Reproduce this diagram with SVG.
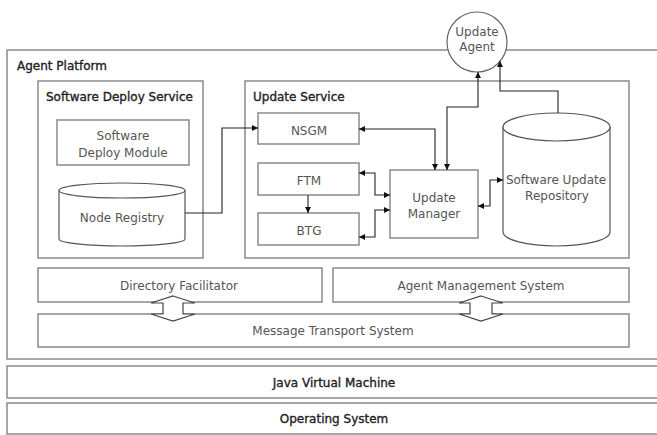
<svg xmlns="http://www.w3.org/2000/svg" width="657" height="435" viewBox="0 0 657 435">
  <style>
    .box { fill: #fff; stroke: #8a8a8a; stroke-width: 1.5; }
    .cyl { fill: #fff; stroke: #555; stroke-width: 1.2; }
    .wire { fill: none; stroke: #222; stroke-width: 1.1; }
    .blk { fill: #fff; stroke: #444; stroke-width: 1.2; stroke-linejoin: miter; }
    .lbl { font-family: "DejaVu Sans", "Liberation Sans", sans-serif; font-size: 12px; fill: #555; text-anchor: middle; }
    .ttl { font-family: "DejaVu Sans", "Liberation Sans", sans-serif; font-size: 12px; fill: #222; stroke: #222; stroke-width: 0.35; }
  </style>
  <defs>
    <marker id="ah" viewBox="0 0 10 10" refX="10" refY="5" markerWidth="6" markerHeight="6" markerUnits="userSpaceOnUse" orient="auto-start-reverse">
      <path d="M0,0 L10,5 L0,10 z" fill="#111"/>
    </marker>
  </defs>

  <rect width="657" height="435" fill="#fff"/>

  <!-- platform layers -->
  <g id="agent-platform">
    <rect class="box" x="7" y="50" width="662" height="309"/>
    <text class="ttl" x="17" y="70" font-size="13">Agent Platform</text>
  </g>
  <g id="jvm">
    <rect class="box" x="7" y="366" width="662" height="32"/>
    <text class="ttl" x="334" y="387" font-size="13" text-anchor="middle">Java Virtual Machine</text>
  </g>
  <g id="os">
    <rect class="box" x="7" y="403" width="662" height="31"/>
    <text class="ttl" x="334" y="423" font-size="13" text-anchor="middle">Operating System</text>
  </g>

  <!-- services -->
  <g id="software-deploy-service">
    <rect class="box" x="38" y="81" width="165" height="177"/>
    <text class="ttl" x="46" y="101">Software Deploy Service</text>
  </g>
  <g id="software-deploy-module">
    <rect class="box" x="57" y="120" width="132" height="45"/>
    <text class="lbl" x="123" y="140">Software</text>
    <text class="lbl" x="123" y="157">Deploy Module</text>
  </g>
  <g id="node-registry">
    <path class="cyl" d="M59,190.5 L59,239 A63,7 0 0 0 185,239 L185,190.5"/>
    <ellipse class="cyl" cx="122" cy="190.5" rx="63" ry="7.5"/>
    <text class="lbl" x="122" y="222">Node Registry</text>
  </g>

  <g id="update-service">
    <rect class="box" x="245" y="81" width="384" height="177"/>
    <text class="ttl" x="253" y="101">Update Service</text>
  </g>
  <g id="nsgm">
    <rect class="box" x="258" y="113" width="101" height="31"/>
    <text class="lbl" x="309" y="135">NSGM</text>
  </g>
  <g id="ftm">
    <rect class="box" x="258" y="163" width="101" height="32"/>
    <text class="lbl" x="309" y="185">FTM</text>
  </g>
  <g id="btg">
    <rect class="box" x="258" y="213" width="101" height="32"/>
    <text class="lbl" x="309" y="235">BTG</text>
  </g>
  <g id="update-manager">
    <rect class="box" x="390" y="170" width="88" height="68"/>
    <text class="lbl" x="434" y="202">Update</text>
    <text class="lbl" x="434" y="218">Manager</text>
  </g>
  <g id="software-update-repository">
    <path class="cyl" d="M503,127 L503,232 A53.5,14 0 0 0 610,232 L610,127"/>
    <ellipse class="cyl" cx="556.5" cy="127" rx="53.5" ry="14"/>
    <text class="lbl" x="556" y="184" font-size="11.5">Software Update</text>
    <text class="lbl" x="557" y="200" font-size="11.5">Repository</text>
  </g>

  <g id="update-agent">
    <circle cx="477" cy="42" r="30" fill="#fff" stroke="#666" stroke-width="1.2"/>
    <text class="lbl" x="477" y="36">Update</text>
    <text class="lbl" x="477" y="51">Agent</text>
  </g>

  <!-- platform services -->
  <g id="directory-facilitator">
    <rect class="box" x="38" y="268" width="284" height="34"/>
    <text class="lbl" x="179" y="290">Directory Facilitator</text>
  </g>
  <g id="agent-management-system">
    <rect class="box" x="333" y="268" width="296" height="34"/>
    <text class="lbl" x="481" y="290">Agent Management System</text>
  </g>
  <g id="message-transport-system">
    <rect class="box" x="38" y="314" width="591" height="33"/>
    <text class="lbl" x="333" y="335">Message Transport System</text>
  </g>

  <!-- connectors -->
  <g id="connectors">
    <path class="wire" d="M185,213 H222 V128 H258" marker-end="url(#ah)"/>
    <path class="wire" d="M359,129 H435 V170" marker-start="url(#ah)" marker-end="url(#ah)"/>
    <path class="wire" d="M447,170 V107 H478 V72" marker-start="url(#ah)" marker-end="url(#ah)"/>
    <path class="wire" d="M558,113 V91 H500 V61" marker-end="url(#ah)"/>
    <path class="wire" d="M359,173 H375 V195 H390" marker-start="url(#ah)" marker-end="url(#ah)"/>
    <path class="wire" d="M390,210 H375 V237 H359" marker-start="url(#ah)" marker-end="url(#ah)"/>
    <path class="wire" d="M478,206 H490 V180 H503" marker-start="url(#ah)" marker-end="url(#ah)"/>
    <path class="wire" d="M308,195 V213" marker-end="url(#ah)"/>
    <polygon class="blk" points="173,296 195,303 183,303 183,314 195,314 173,321 151,314 163,314 163,303 151,303"/>
    <polygon class="blk" points="481,296 503,303 492,303 492,314 503,314 481,321 459,314 470,314 470,303 459,303"/>
  </g>
</svg>
